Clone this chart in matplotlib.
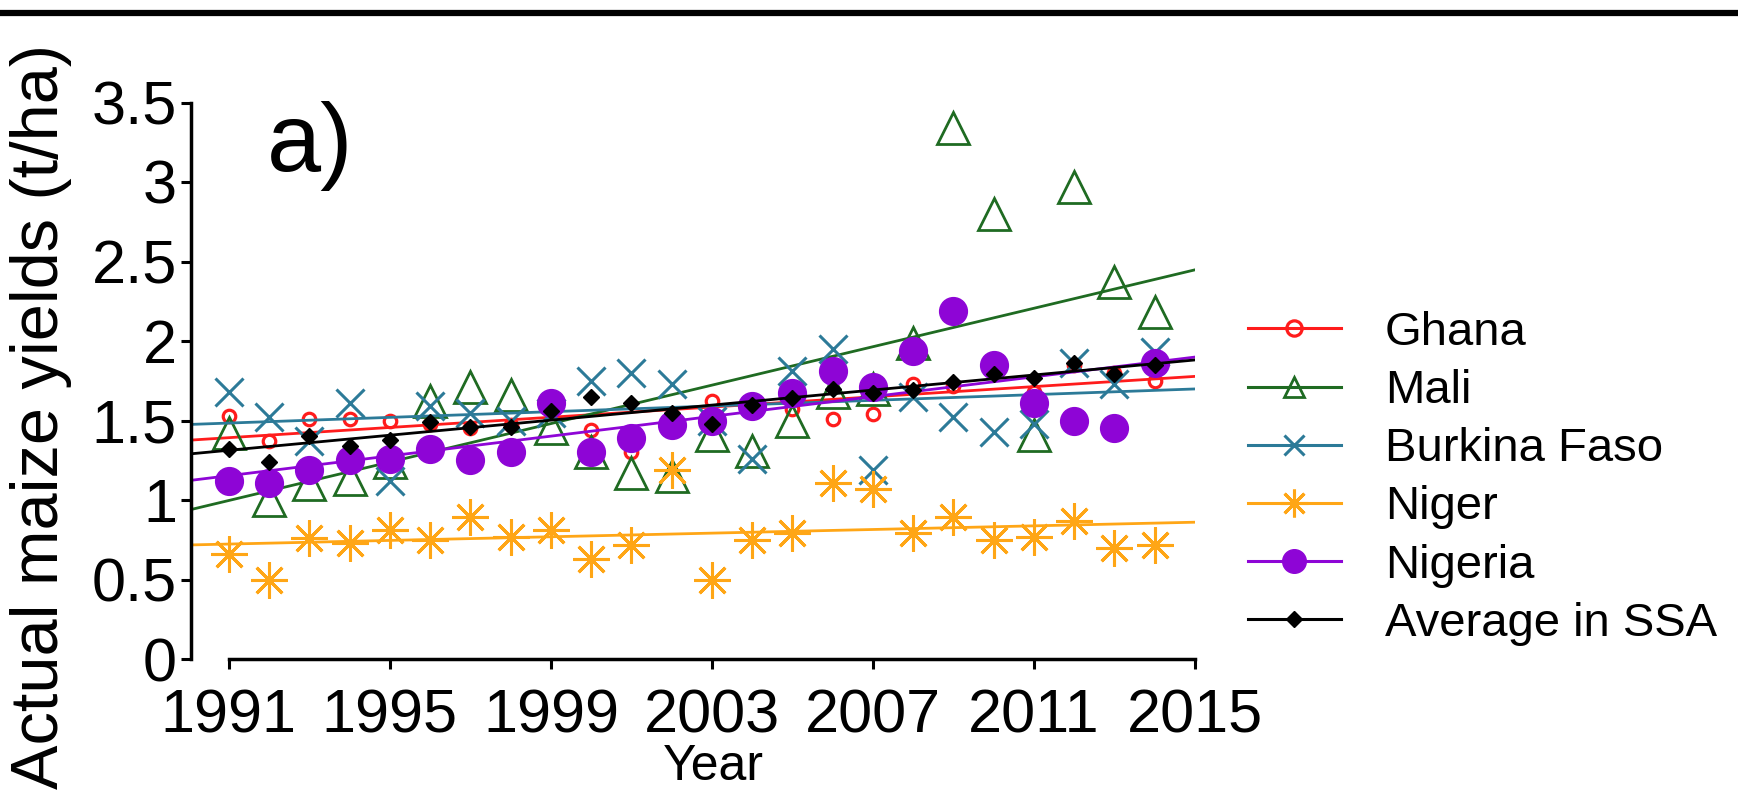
import numpy as np
import matplotlib
matplotlib.use("Agg")
import matplotlib.pyplot as plt
from matplotlib.lines import Line2D

plt.rcParams['font.family'] = ['Liberation Sans', 'DejaVu Sans']

# maize yields, t/ha
years = np.arange(1991, 2015)
ghana = [1.53, 1.37, 1.51, 1.51, 1.50, 1.48, 1.45, 1.47, 1.57, 1.44, 1.30, 1.48,
         1.62, 1.60, 1.57, 1.51, 1.54, 1.73, 1.72, 1.86, 1.68, 1.85, 1.80, 1.75]
mali = [1.42, 1.00, 1.10, 1.13, 1.24, 1.62, 1.71, 1.66, 1.45, 1.30, 1.17, 1.15,
        1.41, 1.31, 1.50, 1.68, 1.70, 1.99, 3.34, 2.80, 1.41, 2.97, 2.37, 2.18]
burkina = [1.68, 1.52, 1.37, 1.61, 1.12, 1.59, 1.55, 1.50, 1.55, 1.75, 1.80, 1.73,
           1.50, 1.26, 1.81, 1.95, 1.19, 1.65, 1.52, 1.43, 1.48, 1.86, 1.73, 1.93]
niger = [0.66, 0.50, 0.76, 0.73, 0.81, 0.75, 0.89, 0.77, 0.81, 0.63, 0.72, 1.19,
         0.50, 0.75, 0.79, 1.11, 1.07, 0.79, 0.89, 0.75, 0.77, 0.87, 0.70, 0.72]
nigeria = [1.12, 1.11, 1.19, 1.25, 1.26, 1.32, 1.25, 1.30, 1.61, 1.30, 1.39, 1.47,
           1.50, 1.59, 1.67, 1.81, 1.71, 1.94, 2.19, 1.85, 1.61, 1.50, 1.45, 1.86]
ssa_avg = [1.32, 1.24, 1.40, 1.34, 1.38, 1.49, 1.46, 1.46, 1.56, 1.65, 1.61, 1.55,
           1.48, 1.60, 1.64, 1.70, 1.67, 1.69, 1.74, 1.79, 1.77, 1.86, 1.79, 1.85]

names = ["Ghana", "Mali", "Burkina Faso", "Niger", "Nigeria", "Average in SSA"]
series = [ghana, mali, burkina, niger, nigeria, ssa_avg]
colors = ["#ff1c1c", "#1f6b22", "#2c7a98", "#ffa616", "#8e05d6", "black"]

# marker, size, filled, edge width, legend size
styles = [("o", 9, False, 2.3, 11),
          ("^", 23, False, 2.0, 15),
          ("x", 20, False, 2.2, 14),
          ((8, 2, 0), 26, False, 2.2, 20),
          ("o", 20, True, 1.0, 17),
          ("D", 8, True, 1.0, 8)]

xticks = np.arange(1991, 2016, 4)
yticks = np.arange(0, 3.51, 0.5)

fig = plt.figure(figsize=(17.38, 8), dpi=100)
ax = fig.add_axes([191 / 1738, 141 / 800, 1004 / 1738, 556.5 / 800])
ax.set_xlim(1990.06, 2015)
ax.set_ylim(0, 3.5)

xfit = np.array(ax.get_xlim())
handles = []
for name, vals, c, (m, ms, filled, mew, lms) in zip(names, series, colors, styles):
    fc = c if filled else "none"
    ax.plot(years, vals, ls="none", marker=m, ms=ms, mfc=fc, mec=c, mew=mew,
            clip_on=False)
    slope, icpt = np.polyfit(years, vals, 1)
    ax.plot(xfit, slope * xfit + icpt, color=c, lw=2)
    handles.append(Line2D([], [], color=c, lw=2.2, marker=m, ms=lms, mfc=fc,
                          mec=c, mew=mew))

for s in ["top", "right"]:
    ax.spines[s].set_visible(False)
for s in ["left", "bottom"]:
    ax.spines[s].set_linewidth(2.5)
ax.spines["bottom"].set_bounds(1991, 2015)

ax.set_xticks(xticks)
ax.set_yticks(yticks)
ax.set_yticklabels([f"{v:g}" for v in yticks])
ax.tick_params(axis="both", labelsize=44, length=7, width=2.2, direction="out")
ax.tick_params(axis="x", pad=14)
ax.tick_params(axis="y", pad=3)

ax.set_xlabel("Year", fontsize=36)
ax.xaxis.set_label_coords(0.52, -0.152)

ax.set_ylabel("Actual maize yields (t/ha)", fontsize=48, ha="left")
ax.yaxis.set_label_coords(-0.119, -0.2336)

ax.text(0.076, 0.922, "a)", transform=ax.transAxes, fontsize=70,
        ha="left", va="center")

fig.legend(handles, names, loc="center left", bbox_to_anchor=(0.718, 0.402),
           frameon=False, fontsize=34, handlelength=1.97, handletextpad=0.93,
           labelspacing=0.30, borderpad=0, borderaxespad=0)

# rule across the top of the panel
fig.add_artist(Line2D([0, 1], [1 - 12.5 / 800] * 2, color="black", lw=4.5,
                      transform=fig.transFigure))

fig.savefig("out.png", dpi=100)
